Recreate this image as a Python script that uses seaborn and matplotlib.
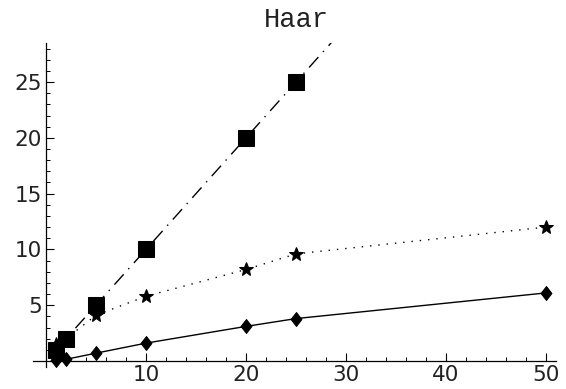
import matplotlib
matplotlib.use("Agg")
import matplotlib.pyplot as plt
import seaborn as sns
import pandas as pd
from matplotlib.ticker import MultipleLocator
from matplotlib.path import Path

sns.set_style("white")
plt.rcParams['font.family'] = ['DejaVu Sans']

# data
x_sq = [1, 2, 5, 10, 20, 25, 50]
y_sq = [1, 2, 5, 10, 20, 25, 50]
x_st = [1, 2, 5, 10, 20, 25, 50]
y_st = [1.5, 2.0, 4.1, 5.8, 8.2, 9.6, 12.0]
x_di = [1, 2, 5, 10, 20, 25, 50]
y_di = [0.05, 0.15, 0.7, 1.6, 3.1, 3.8, 6.1]
xticks = [10, 20, 30, 40, 50]
yticks = [5, 10, 15, 20, 25]
title = "Haar"

diamond = Path([(0, 1), (0.78, 0), (0, -1), (-0.78, 0), (0, 1)],
               [Path.MOVETO, Path.LINETO, Path.LINETO, Path.LINETO, Path.CLOSEPOLY])

fig = plt.figure(figsize=(5.66, 3.89), dpi=100)
ax = fig.add_axes([33/566, 1-367/389, (556-33)/566, (367-43)/389])

sns.lineplot(x=x_di, y=y_di, ax=ax, color="black", linewidth=1.0,
             marker=diamond, markersize=10, markeredgecolor="black", sort=False)
sns.lineplot(x=x_st, y=y_st, ax=ax, color="black", linewidth=1.0, linestyle=(0, (1, 5)),
             marker="*", markersize=10, markeredgecolor="black", sort=False)
sns.lineplot(x=x_sq, y=y_sq, ax=ax, color="black", linewidth=1.0, linestyle=(0, (10, 5, 1, 5)),
             marker="s", markersize=11.5, markeredgecolor="black", sort=False)

ax.set_xlim(-1.3, 51.0)
ax.set_ylim(-0.54, 28.5)
for s in ["top", "right"]:
    ax.spines[s].set_visible(False)
ax.spines["left"].set_position(("data", 0))
ax.spines["bottom"].set_position(("data", 0))
for s in ["left", "bottom"]:
    ax.spines[s].set_color("black")
    ax.spines[s].set_linewidth(0.9)

ax.set_xticks(xticks)
ax.set_yticks(yticks)
ax.xaxis.set_minor_locator(MultipleLocator(2))
ax.yaxis.set_minor_locator(MultipleLocator(1))
ax.tick_params(which="major", direction="in", length=6, width=0.8, colors="black",
               labelsize=15.5, labelcolor="#222222")
ax.tick_params(which="minor", direction="in", length=3, width=0.7, colors="black")
ax.tick_params(axis="x", pad=3)
ax.tick_params(axis="y", pad=3)
ax.xaxis.set_ticks_position("bottom")
ax.yaxis.set_ticks_position("left")
ax.set_xlabel("")
ax.set_ylabel("")

fig.text(296/566, 1-20/389, title, ha="center", va="center",
         fontsize=19.5, family="Liberation Mono", color="#222222")

fig.savefig("out.png", dpi=100)
